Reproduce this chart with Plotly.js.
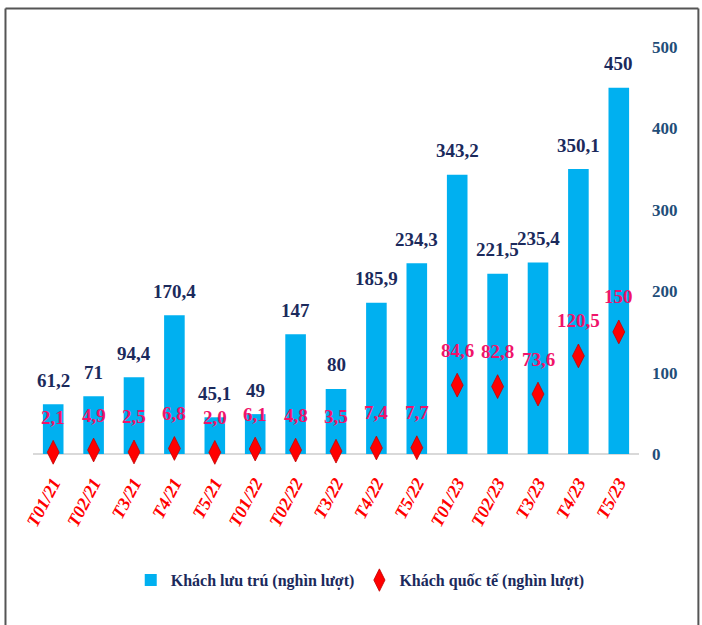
<!DOCTYPE html>
<html>
<head>
<meta charset="utf-8">
<script src="https://cdn.plot.ly/plotly-3.0.1.min.js"></script>
<style>html,body{margin:0;padding:0;background:#fff;}#chart{width:702px;height:625px;}</style>
</head>
<body>
<div id="chart"></div>
<script>
var categories = ["T01/21","T02/21","T3/21","T4/21","T5/21","T01/22","T02/22","T3/22","T4/22","T5/22","T01/23","T02/23","T3/23","T4/23","T5/23"];
var stayValues = [61.2, 71, 94.4, 170.4, 45.1, 49, 147, 80, 185.9, 234.3, 343.2, 221.5, 235.4, 350.1, 450];
var stayLabels = ["61,2","71","94,4","170,4","45,1","49","147","80","185,9","234,3","343,2","221,5","235,4","350,1","450"];
var intlValues = [2.1, 4.9, 2.5, 6.8, 2.0, 6.1, 4.8, 3.5, 7.4, 7.7, 84.6, 82.8, 73.6, 120.5, 150];
var intlLabels = ["2,1","4,9","2,5","6,8","2,0","6,1","4,8","3,5","7,4","7,7","84,6","82,8","73,6","120,5","150"];
var seriesNames = ["Khách lưu trú (nghìn lượt)", "Khách quốc tế (nghìn lượt)"];
var yTicks = [0, 100, 200, 300, 400, 500];

var serif = "Liberation Serif, Times New Roman, serif";

var traces = [
  {
    type: "bar",
    name: seriesNames[0],
    x: categories,
    y: stayValues,
    yaxis: "y",
    marker: {color: "#00B0F0"},
    hoverinfo: "none"
  },
  {
    type: "scatter",
    mode: "markers",
    name: seriesNames[1],
    x: categories,
    y: intlValues,
    yaxis: "y",
    marker: {symbol: "diamond-tall", size: 17, color: "#FF0000", line: {color: "#C00000", width: 0.8}},
    hoverinfo: "none",
    cliponaxis: false
  }
];

var annotations = [];
categories.forEach(function(c, i) {
  annotations.push({
    x: c, y: stayValues[i], xref: "x", yref: "y",
    text: "<b>" + stayLabels[i] + "</b>", showarrow: false,
    yanchor: "middle", yshift: 24,
    font: {family: serif, size: 19, color: "#1B2A5C"}
  });
  annotations.push({
    x: c, y: intlValues[i], xref: "x", yref: "y",
    text: "<b>" + intlLabels[i] + "</b>", showarrow: false,
    yanchor: "middle", yshift: 35,
    font: {family: serif, size: 19, color: "#F0136A"}
  });
});

var frameColor = "#555555";
var shapes = [
  {type: "line", xref: "paper", yref: "paper", x0: -0.0454, x1: -0.0454, y0: 1.0946, y1: -0.45, line: {color: frameColor, width: 2}},
  {type: "line", xref: "paper", yref: "paper", x0: -0.0454, x1: 1.098, y0: 1.0946, y1: 1.0946, line: {color: frameColor, width: 2}},
  {type: "line", xref: "paper", yref: "paper", x0: 1.098, x1: 1.098, y0: 1.0946, y1: -0.45, line: {color: frameColor, width: 2}}
];

var layout = {
  width: 702, height: 625,
  margin: {l: 33, r: 63, t: 47, b: 171},
  paper_bgcolor: "#FFFFFF",
  plot_bgcolor: "#FFFFFF",
  bargap: 0.49,
  showlegend: true,
  legend: {
    orientation: "h", x: 0.54, xanchor: "center", y: -0.31, yanchor: "middle",
    font: {family: serif, size: 16, color: "#1B2A5C", weight: "bold"},
    itemwidth: 30, traceorder: "normal"
  },
  xaxis: {
    type: "category",
    range: [-0.5, 14.5],
    tickangle: -62,
    tickvals: categories,
    ticktext: categories.map(function(c){ return "<b><i>" + c + "</i></b>"; }),
    showgrid: false, showline: false, zeroline: false,
    ticks: "",
    ticklabelstandoff: 14,
    tickfont: {family: serif, size: 18, color: "#FF0000"}
  },
  yaxis: {
    side: "right",
    range: [0, 500],
    tickvals: yTicks,
    ticktext: yTicks.map(String),
    showgrid: false, showline: false,
    zeroline: true, zerolinecolor: "#D9D9D9", zerolinewidth: 2,
    ticks: "",
    ticklabelstandoff: 12,
    tickfont: {family: serif, size: 17, color: "#1F4E79", weight: "bold"}
  },
  annotations: annotations,
  shapes: shapes
};

Plotly.newPlot("chart", traces, layout, {displayModeBar: false, staticPlot: true});
</script>
</body>
</html>
